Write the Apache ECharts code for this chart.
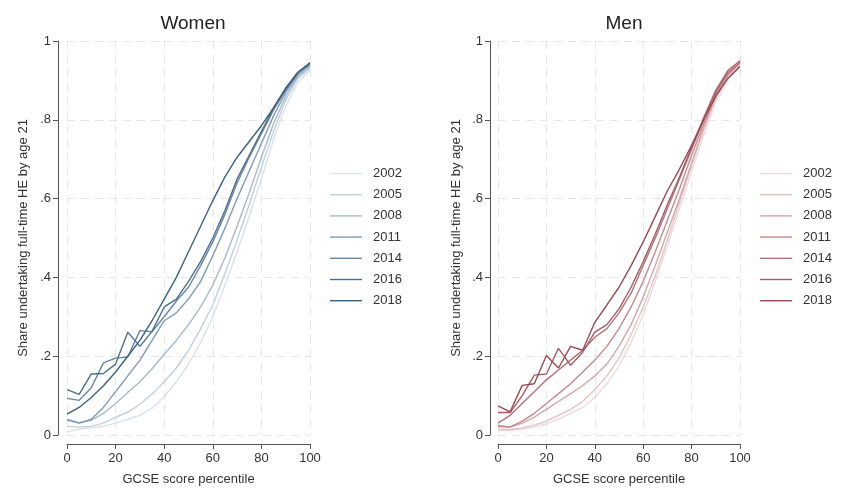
<!DOCTYPE html>
<html lang="en">
<head>
<meta charset="UTF-8">
<title>HE participation by GCSE percentile</title>
<script src="https://cdn.jsdelivr.net/npm/echarts@6/dist/echarts.min.js"></script>
</head>
<body style="margin:0;background:#fff">
<div id="main" style="width:848px;height:493px"></div>
<script type="text/javascript">
// GCSE percentile points (x) and cohort years
var percentiles = [0, 5, 10, 15, 20, 25, 30, 35, 40, 45, 50, 55, 60, 65, 70, 75, 80, 85, 90, 95, 100];
var years = ['2002', '2005', '2008', '2011', '2014', '2016', '2018'];
var yTicks = ['0', '.2', '.4', '.6', '.8', '1'];

// women, share in full-time HE by 21
var women2002 = [0.008, 0.015, 0.018, 0.022, 0.03, 0.04, 0.05, 0.068, 0.097, 0.135, 0.18, 0.235, 0.3, 0.38, 0.465, 0.555, 0.65, 0.75, 0.835, 0.895, 0.925];
var women2005 = [0.022, 0.02, 0.022, 0.03, 0.045, 0.058, 0.078, 0.104, 0.135, 0.17, 0.215, 0.27, 0.33, 0.41, 0.495, 0.585, 0.68, 0.77, 0.85, 0.905, 0.93];
var women2008 = [0.04, 0.031, 0.037, 0.055, 0.08, 0.108, 0.135, 0.168, 0.205, 0.24, 0.28, 0.325, 0.38, 0.45, 0.53, 0.615, 0.705, 0.79, 0.86, 0.91, 0.935];
var women2011 = [0.038, 0.03, 0.04, 0.07, 0.11, 0.15, 0.19, 0.24, 0.29, 0.31, 0.345, 0.39, 0.455, 0.525, 0.6, 0.67, 0.74, 0.81, 0.87, 0.915, 0.94];
var women2014 = [0.093, 0.088, 0.12, 0.183, 0.195, 0.198, 0.265, 0.262, 0.3, 0.34, 0.375, 0.43, 0.49, 0.56, 0.64, 0.705, 0.765, 0.825, 0.875, 0.92, 0.94];
var women2016 = [0.115, 0.103, 0.155, 0.156, 0.18, 0.261, 0.225, 0.263, 0.325, 0.345, 0.39, 0.44, 0.5, 0.57, 0.65, 0.71, 0.77, 0.83, 0.88, 0.92, 0.945];
var women2018 = [0.053, 0.07, 0.095, 0.125, 0.16, 0.2, 0.24, 0.29, 0.345, 0.4, 0.465, 0.53, 0.595, 0.655, 0.705, 0.745, 0.785, 0.83, 0.88, 0.92, 0.945];

// men
var men2002 = [0.011, 0.012, 0.015, 0.02, 0.028, 0.04, 0.055, 0.07, 0.095, 0.13, 0.175, 0.235, 0.305, 0.39, 0.48, 0.575, 0.67, 0.76, 0.845, 0.905, 0.935];
var men2005 = [0.015, 0.014, 0.018, 0.025, 0.035, 0.05, 0.065, 0.085, 0.115, 0.15, 0.195, 0.255, 0.325, 0.405, 0.495, 0.59, 0.685, 0.775, 0.855, 0.91, 0.94];
var men2008 = [0.021, 0.02, 0.03, 0.045, 0.065, 0.085, 0.105, 0.125, 0.15, 0.18, 0.225, 0.28, 0.35, 0.43, 0.515, 0.6, 0.69, 0.78, 0.86, 0.915, 0.945];
var men2011 = [0.024, 0.02, 0.035, 0.055, 0.08, 0.105, 0.13, 0.16, 0.19, 0.225, 0.27, 0.325, 0.39, 0.465, 0.545, 0.625, 0.71, 0.79, 0.865, 0.915, 0.945];
var men2014 = [0.03, 0.05, 0.08, 0.11, 0.14, 0.165, 0.19, 0.215, 0.248, 0.27, 0.31, 0.36, 0.43, 0.5, 0.575, 0.65, 0.725, 0.8, 0.87, 0.92, 0.945];
var men2016 = [0.057, 0.057, 0.1, 0.152, 0.155, 0.22, 0.177, 0.21, 0.261, 0.28, 0.32, 0.375, 0.44, 0.51, 0.585, 0.655, 0.73, 0.805, 0.875, 0.925, 0.95];
var men2018 = [0.074, 0.059, 0.126, 0.13, 0.202, 0.17, 0.225, 0.215, 0.286, 0.33, 0.375, 0.43, 0.49, 0.555, 0.62, 0.675, 0.735, 0.8, 0.86, 0.905, 0.935];

var womenColors = ['#d9e1e9', '#c2cfdb', '#a6b9cb', '#7f9bb5', '#6786a3', '#4d6f8f', '#3c6082'];
var menColors = ['#eed9db', '#e2c2c5', '#d3a6aa', '#c5888e', '#b57079', '#a75d65', '#9a4951'];

var womenData = [women2002, women2005, women2008, women2011, women2014, women2016, women2018];
var menData = [men2002, men2005, men2008, men2011, men2014, men2016, men2018];

var font = 'Liberation Sans, Arial, sans-serif';

function pairs(vals) {
    return percentiles.map(function (p, i) { return [p, vals[i]]; });
}

function xAxisFor(idx) {
    return {
        gridIndex: idx, type: 'value', min: 0, max: 100, interval: 20, offset: 9,
        name: 'GCSE score percentile', nameLocation: 'middle', nameGap: 29,
        nameTextStyle: { fontSize: 13, color: '#333', fontFamily: font },
        axisLine: { onZero: false, lineStyle: { color: '#555', width: 1 } },
        axisTick: { length: 5, lineStyle: { color: '#555' } },
        axisLabel: { margin: 8, fontSize: 13, color: '#333', fontFamily: font },
        splitLine: { show: true, lineStyle: { color: '#e6e6e6', type: [8, 6] } }
    };
}

function yAxisFor(idx, offset, gap) {
    return {
        gridIndex: idx, type: 'value', min: 0, max: 1, interval: 0.2, offset: offset,
        name: 'Share undertaking full-time HE by age 21', nameLocation: 'middle', nameGap: gap,
        nameTextStyle: { fontSize: 13, color: '#333', fontFamily: font },
        axisLine: { show: true, onZero: false, lineStyle: { color: '#555', width: 1 } },
        axisTick: { show: true, length: 5, lineStyle: { color: '#555' } },
        axisLabel: {
            margin: 7, fontSize: 13, color: '#333', fontFamily: font,
            formatter: function (v) { return yTicks[Math.round(v * 5)]; }
        },
        splitLine: { show: true, lineStyle: { color: '#e6e6e6', type: [8, 6] } }
    };
}

var series = [];
years.forEach(function (y, i) {
    series.push({
        name: y, type: 'line', xAxisIndex: 0, yAxisIndex: 0, symbol: 'none',
        lineStyle: { width: 1.4, color: womenColors[i] }, itemStyle: { color: womenColors[i] },
        data: pairs(womenData[i]), z: 2 + i
    });
});
years.forEach(function (y, i) {
    series.push({
        name: 'Men ' + y, type: 'line', xAxisIndex: 1, yAxisIndex: 1, symbol: 'none',
        lineStyle: { width: 1.4, color: menColors[i] }, itemStyle: { color: menColors[i] },
        data: pairs(menData[i]), z: 2 + i
    });
});

var legendBase = {
    orient: 'vertical', top: 167, padding: 0, itemWidth: 32, itemHeight: 14, itemGap: 8.2,
    icon: 'path://M0,0 L32,0 L32,1.4 L0,1.4 Z',
    textStyle: { fontSize: 13, color: '#333', fontFamily: font, padding: [0, 0, 0, 6] }
};

var chart = echarts.init(document.getElementById('main'));
chart.setOption({
    animation: false,
    backgroundColor: '#fff',
    title: [
        { text: 'Women', left: 188, top: 9, textAlign: 'center', textStyle: { fontSize: 19, fontWeight: 'normal', color: '#222', fontFamily: font } },
        { text: 'Men', left: 619, top: 9, textAlign: 'center', textStyle: { fontSize: 19, fontWeight: 'normal', color: '#222', fontFamily: font } }
    ],
    legend: [
        Object.assign({}, legendBase, { left: 330, data: years }),
        Object.assign({}, legendBase, {
            left: 760, data: years.map(function (y) { return 'Men ' + y; }),
            formatter: function (n) { return n.replace('Men ', ''); }
        })
    ],
    grid: [
        { left: 67, right: 538, top: 41, bottom: 58 },
        { left: 498, right: 108, top: 41, bottom: 58 }
    ],
    xAxis: [xAxisFor(0), xAxisFor(1)],
    yAxis: [yAxisFor(0, 9, 28), yAxisFor(1, 8, 27)],
    series: series
});
</script>
</body>
</html>
